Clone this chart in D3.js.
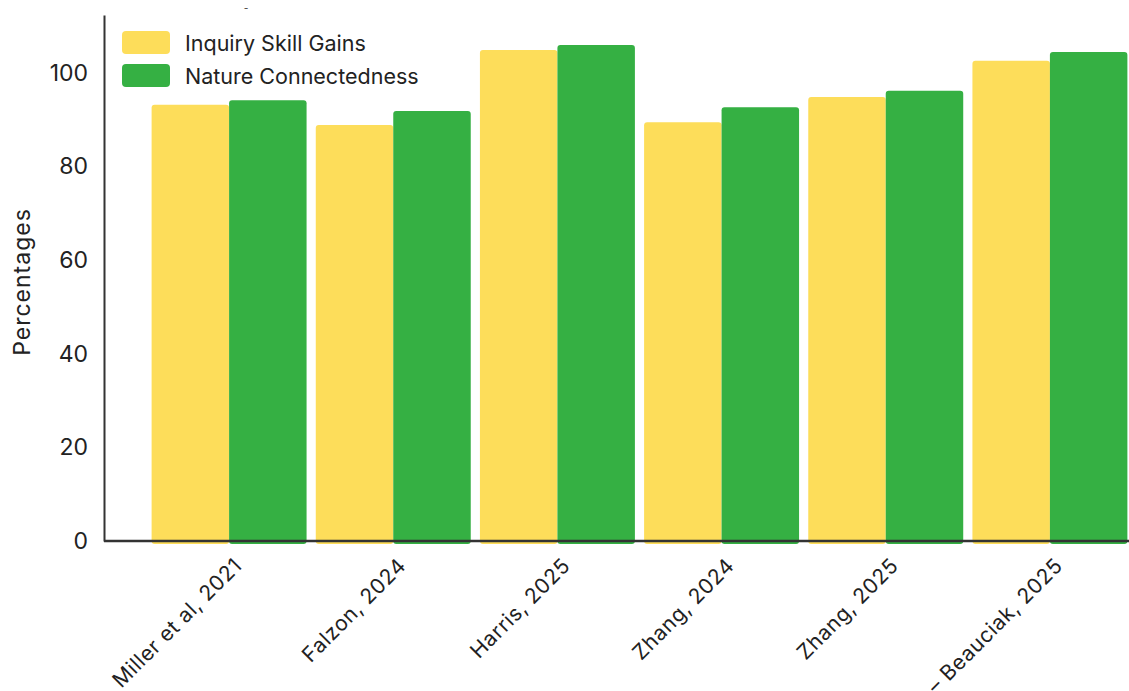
<!DOCTYPE html>
<html>
<head>
<meta charset="utf-8">
<script src="https://cdn.jsdelivr.net/npm/d3@7"></script>
<style>
  body { margin: 0; background: #fff; }
  svg { display: block; font-family: Inter, "Noto Sans", sans-serif; }
</style>
</head>
<body>
<div id="chart"></div>
<script>
const width = 1129;
const height = 691;

// Data.
const studies = ["Miller et al, 2021", "Falzon, 2024", "Harris, 2025", "Zhang, 2024", "Zhang, 2025", "– Beauciak, 2025"];
const seriesNames = ["Inquiry Skill Gains", "Nature Connectedness"];
const inquiryGains = [93.2, 88.9, 104.9, 89.5, 94.9, 102.6];
const natureConnect = [94.2, 91.9, 106.0, 92.7, 96.2, 104.5];
const yTicks = [0, 20, 40, 60, 80, 100];

const colours = ["#fddd5a", "#35b043"];

const rows = studies.map((s, i) => ({ study: s, values: [inquiryGains[i], natureConnect[i]] }));

const svg = d3.select("#chart")
  .append("svg")
  .attr("width", width)
  .attr("height", height);

const x0 = 104, yBase = 541, yTop = 15;

const x = d3.scaleBand()
  .domain(studies)
  .range([x0, 1175])
  .paddingInner(0.056)
  .paddingOuter(0.29);

const xSub = d3.scaleBand()
  .domain(seriesNames)
  .range([0, x.bandwidth()]);

const y = d3.scaleLinear()
  .domain([0, 112.4])
  .range([yBase, yTop]);

// Bars.
svg.append("g")
  .selectAll("g")
  .data(rows)
  .join("g")
  .attr("transform", d => `translate(${x(d.study)},0)`)
  .selectAll("rect")
  .data(d => d.values.map((v, j) => ({ key: seriesNames[j], value: v, j })))
  .join("rect")
  .attr("x", d => xSub(d.key))
  .attr("y", d => y(d.value))
  .attr("width", xSub.bandwidth())
  .attr("height", d => y(0) - y(d.value) + 3)
  .attr("rx", 3)
  .attr("fill", d => colours[d.j]);

// Y axis.
const yAxis = svg.append("g")
  .attr("transform", `translate(${x0},0)`)
  .call(d3.axisLeft(y).tickValues(yTicks).tickSize(0).tickPadding(16));
yAxis.select(".domain").attr("stroke", "#333").attr("stroke-width", 2);
yAxis.selectAll("text")
  .attr("font-size", 23)
  .attr("fill", "#222")
  .style("font-family", "Inter, sans-serif");

// X axis.
const xAxis = svg.append("g")
  .attr("transform", `translate(0,${yBase})`)
  .call(d3.axisBottom(x).tickSize(0).tickSizeOuter(0));
xAxis.select(".domain")
  .attr("d", `M${x0},0H${width}`)
  .attr("stroke", "#333")
  .attr("stroke-width", 2.5);
xAxis.selectAll("text")
  .attr("font-size", 21)
  .attr("letter-spacing", 0.6)
  .attr("fill", "#222")
  .attr("text-anchor", "end")
  .attr("dy", 0)
  .attr("y", 0)
  .attr("transform", "translate(14,26) rotate(-45)")
  .style("font-family", "Inter, sans-serif");

// Y label.
svg.append("text")
  .attr("transform", `translate(30,282) rotate(-90)`)
  .attr("text-anchor", "middle")
  .attr("font-size", 23)
  .attr("letter-spacing", 1)
  .attr("fill", "#222")
  .text("Percentages");

// Stray mark near the top.
svg.append("text")
  .attr("x", 246)
  .attr("y", 12)
  .attr("text-anchor", "middle")
  .attr("font-size", 10)
  .attr("fill", "#333")
  .text("-");

// Legend.
const legend = svg.append("g")
  .selectAll("g")
  .data(seriesNames)
  .join("g")
  .attr("transform", (d, i) => `translate(122,${31 + i * 33})`);
legend.append("rect")
  .attr("width", 48)
  .attr("height", 23)
  .attr("rx", 4)
  .attr("fill", (d, i) => colours[i]);
legend.append("text")
  .attr("x", 63)
  .attr("y", 12)
  .attr("dy", "0.35em")
  .attr("font-size", 21.5)
  .attr("fill", "#222")
  .text(d => d);
</script>
</body>
</html>
